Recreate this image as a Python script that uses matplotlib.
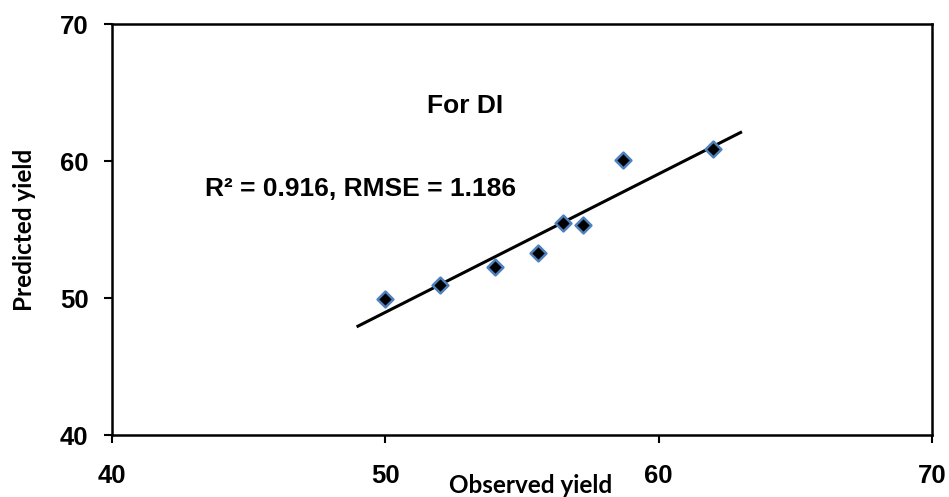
import numpy as np
import matplotlib
matplotlib.use("Agg")
import matplotlib.pyplot as plt

# observed vs predicted yield
observed = [50.0, 52.0, 54.0, 55.6, 56.5, 57.25, 58.7, 62.0]
predicted = [49.9, 50.95, 52.3, 53.3, 55.5, 55.3, 60.05, 60.85]
trend_range = [49.0, 63.0]
ticks = [40, 50, 60, 70]

fig = plt.figure(figsize=(9.49, 4.97), dpi=100)
ax = fig.add_axes([0.118, 0.1247, 0.864, 0.827])

# linear trend line, extended beyond the data like excel does
k, b = np.polyfit(observed, predicted, 1)
xs = np.array(trend_range)
ax.plot(xs, k * xs + b, color="black", lw=2.2, zorder=2)

ax.scatter(observed, predicted, marker="D", s=65, facecolor="black",
           edgecolor="#4F81BD", linewidth=1.8, zorder=3)

ax.set_xlim(40, 70)
ax.set_ylim(40, 70)
ax.set_xticks(ticks)
ax.set_yticks(ticks)

for sp in ax.spines.values():
    sp.set_linewidth(1.8)
    sp.set_color("black")

ax.tick_params(axis="both", direction="out", length=6, width=1.5)
ax.tick_params(axis="x", pad=15)
ax.tick_params(axis="y", pad=11)
for lab in ax.get_yticklabels() + ax.get_xticklabels():
    lab.set_fontfamily("Liberation Sans")
    lab.set_fontweight("bold")
    lab.set_fontsize(18.5)

ax.set_xlabel("Observed yield", fontfamily="Lato", fontweight="bold",
              fontsize=17.5, va="center")
ax.xaxis.set_label_coords(0.51, -0.122)
ax.set_ylabel("Predicted yield", fontfamily="Lato", fontweight="bold",
              fontsize=17.5, va="center")
ax.yaxis.set_label_coords(-0.107, 0.50)

ax.text(52.93, 64.0, "For DI", ha="center", va="center",
        fontfamily="Liberation Sans", fontweight="bold", fontsize=19)
ax.text(43.4, 57.96, "R² = 0.916, RMSE = 1.186", ha="left", va="center",
        fontfamily="Liberation Sans", fontweight="bold", fontsize=19)

fig.savefig("out.png", dpi=100)
